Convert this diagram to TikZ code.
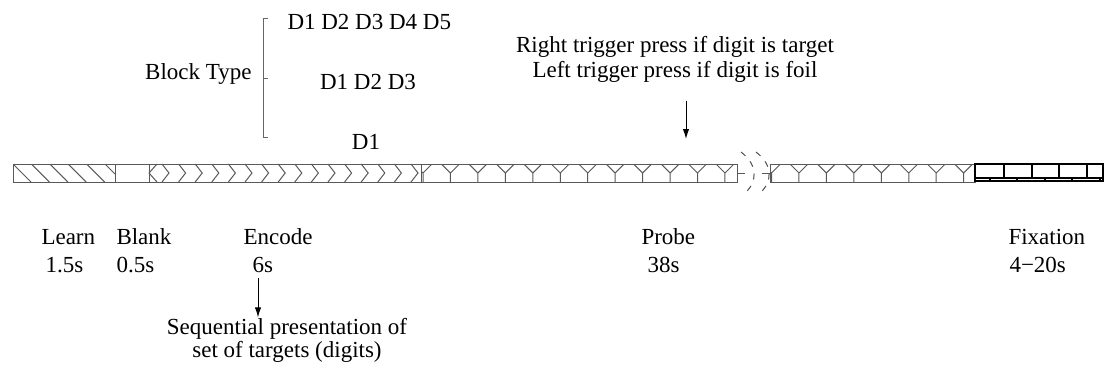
\documentclass[tikz,border=0pt]{standalone}
\usepackage{fontspec}
\setmainfont{Liberation Serif}
\usetikzlibrary{arrows.meta}

\tikzset{every picture/.style={line width=0.5pt},
  lbl/.style={inner sep=0pt, font=\fontsize{11.5}{12.5}\selectfont},
  hatch/.style={draw=black!65, line width=0.5pt},
  fixline/.style={draw=black, line width=1pt},
  pointer/.style={-{Latex[length=5pt,width=3.2pt]}, line width=0.5pt},
  gapmark/.style={draw=black!70, dash pattern=on 3pt off 3.5pt, line width=0.5pt}}

\begin{document}
\begin{tikzpicture}[x=0.5pt, y=-0.5pt]
    \useasboundingbox (0,0) rectangle (1107,374);

    % block types
    \node[lbl, anchor=east] (btype) at (252,74) {Block Type};
    \node[lbl, anchor=west] (dfive) at (287,22) {D1 D2 D3 D4 D5};
    \node[lbl] (dthree) at (368,82) {D1 D2 D3};
    \node[lbl] (done) at (366,142) {D1};
    \draw[draw=black!60] (268,19) -- (263,19) -- (263,137) -- (268,137);
    \draw[draw=black!60] (263,79) -- (268,79);

    % learn
    \begin{scope}
        \clip (13,164) rectangle (115,182);
        \foreach \x in {13,31.4,...,110} \draw[hatch] (\x,164) -- ++(18,18);
    \end{scope}
    % encode
    \draw[hatch] (157,164) -- (149,173) -- (157,182);
    \foreach \k in {0,...,15} \draw[hatch] ({162+16.6*\k},164) -- ++(7,9) -- ++(-7,9);
    % probe
    \begin{scope}
        \clip (421,164) rectangle (737,182);
        \foreach \k in {0,...,11}
            \draw[hatch] ({423+27.45*\k-9},164) -- ({423+27.45*\k},173) -- ({423+27.45*\k+9},164)
                         ({423+27.45*\k},173) -- ({423+27.45*\k},182);
    \end{scope}
    \begin{scope}
        \clip (770,164) rectangle (975,182);
        \foreach \k in {0,...,7}
            \draw[hatch] ({771.5+27.45*\k-9},164) -- ({771.5+27.45*\k},173) -- ({771.5+27.45*\k+9},164)
                         ({771.5+27.45*\k},173) -- ({771.5+27.45*\k},182);
    \end{scope}
    \draw[hatch] (13,164) rectangle (737,182);
    \draw[hatch] (115,164) -- (115,182) (149,164) -- (149,182) (421,164) -- (421,182);
    \draw[hatch] (770,164) rectangle (975,182);
    \draw[hatch] (737,173) -- (745,173) (762,173) -- (770,173);
    % break
    \draw[gapmark] (741,152) .. controls (758,165) and (758,182) .. (744,194);
    \draw[gapmark] (756,152) .. controls (773,165) and (773,182) .. (759,194);
    % fixation
    \draw[fixline] (975,164) rectangle (1103,181);
    \draw[fixline] (975,178) -- (1103,178);
    \foreach \x in {1004,1032,1059,1087} \draw[fixline] (\x,164) -- (\x,178);
    \foreach \x in {990,1017,1045,1072,1100} \draw[fixline] (\x,178) -- (\x,181);

    % phases
    \node[lbl, anchor=west] (learn) at (41,237) {Learn};
    \node[lbl, anchor=west] (learnt) at (45,265) {1.5s};
    \node[lbl, anchor=west] (blank) at (116,237) {Blank};
    \node[lbl, anchor=west] (blankt) at (116,265) {0.5s};
    \node[lbl, anchor=west] (encode) at (243,237) {Encode};
    \node[lbl, anchor=west] (encodet) at (252,265) {6s};
    \node[lbl, anchor=west] (probe) at (641,237) {Probe};
    \node[lbl, anchor=west] (probet) at (647,265) {38s};
    \node[lbl, anchor=west] (fix) at (1008,237) {Fixation};
    \node[lbl, anchor=west] (fixt) at (1009,265) {4−20s};

    % notes
    \node[lbl, align=center] (trig) at (675,59) {Right trigger press if digit is target\\Left trigger press if digit is foil};
    \coordinate (probetip) at (686,139);
    \draw[pointer, shorten <=9pt] (trig.south -| probetip) -- (probetip);

    \node[lbl, align=center, font=\fontsize{11.5}{10}\selectfont] (seq) at (287,340) {Sequential presentation of\\set of targets (digits)};
    \coordinate (seqx) at (258,300);
    \draw[pointer, shorten <=2.5pt] (encodet.south -| seqx) -- (seq.north -| seqx);
\end{tikzpicture}
\end{document}
